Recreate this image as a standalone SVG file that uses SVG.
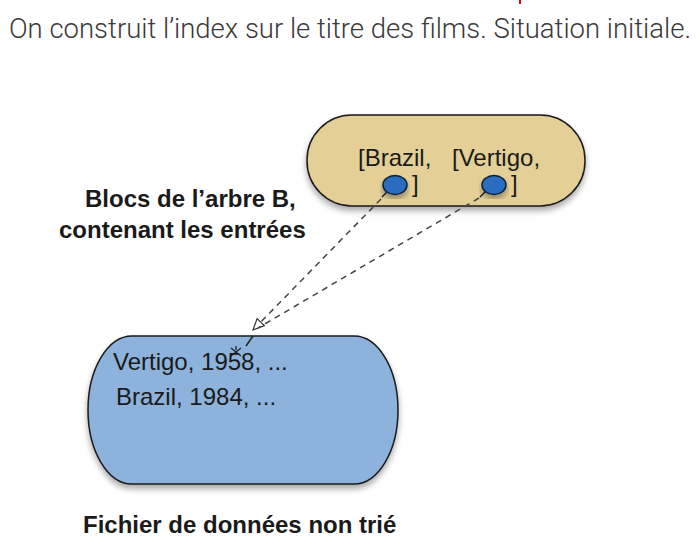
<svg xmlns="http://www.w3.org/2000/svg" width="700" height="542" viewBox="0 0 700 542">
<style>
.title{font-family:Roboto,"Liberation Sans",sans-serif;font-weight:300;font-size:27px;fill:#3a3a3a}
.t{font-family:"Liberation Sans",Arial,sans-serif;font-size:24px;fill:#1a1a1a}
.b{font-family:"Liberation Sans",Arial,sans-serif;font-size:24px;font-weight:bold;fill:#1a1a1a}
.node{stroke:#1a1a1a;stroke-width:1.5}
.dot{fill:#2a6cc0;stroke:#10203a;stroke-width:1.5}
.dash{fill:none;stroke:#444;stroke-width:1.5;stroke-dasharray:6,5}
</style>
<defs>
<filter id="sh" x="-10%" y="-10%" width="120%" height="130%">
<feGaussianBlur in="SourceAlpha" stdDeviation="3"/>
<feOffset dx="0" dy="4" result="o"/>
<feComponentTransfer><feFuncA type="linear" slope="0.35"/></feComponentTransfer>
<feMerge><feMergeNode/><feMergeNode in="SourceGraphic"/></feMerge>
</filter>
<marker id="open" markerWidth="14" markerHeight="12" refX="12" refY="6" orient="auto" markerUnits="userSpaceOnUse">
<path d="M1,1 L12,6 L1,11 Z" fill="#fff" stroke="#333" stroke-width="1.2"/>
</marker>
</defs>
<rect x="519" y="0" width="2" height="4" fill="#e00000"/>
<text class="title" x="9" y="38" textLength="682" lengthAdjust="spacingAndGlyphs">On construit l’index sur le titre des films. Situation initiale.</text>

<g id="label-blocs">
<text class="b" x="85" y="207">Blocs de l’arbre B,</text>
<text class="b" x="59" y="238">contenant les entrées</text>
</g>

<g id="node-btree">
<rect class="node" x="307" y="115" width="278" height="91" rx="45" ry="45" fill="#e4d097" filter="url(#sh)"/>
<text class="t" x="358" y="166">[Brazil,</text>
<text class="t" x="452" y="166">[Vertigo,</text>
<path d="M388,191 L382,197" stroke="#10203a" stroke-width="1.5"/>
<ellipse class="dot" cx="395" cy="185" rx="12" ry="9.5" filter="url(#sh)"/>
<text class="t" x="412" y="192">]</text>
<path d="M486,191 L480,197" stroke="#10203a" stroke-width="1.5"/>
<ellipse class="dot" cx="494" cy="185" rx="12" ry="9.5" filter="url(#sh)"/>
<text class="t" x="511" y="192">]</text>
</g>

<g id="node-data">
<rect class="node" x="88" y="336" width="310" height="148" rx="44" ry="74" fill="#8db3dc" filter="url(#sh)"/>
<text class="t" x="113" y="370">Vertigo, 1958, ...</text>
<text class="t" x="116" y="405">Brazil, 1984, ...</text>
</g>

<g id="label-fichier">
<text class="b" x="83" y="533">Fichier de données non trié</text>
</g>

<g id="connectors">
<path class="dash" d="M381,199 L253,330" marker-end="url(#open)"/>
<path class="dash" d="M479,198 L258,328"/>
<path d="M253,336 L246,346" fill="none" stroke="#222" stroke-width="1.5"/>
<path d="M231,348 L241,356 M241,348 L231,356 M236,346 L236,350" fill="none" stroke="#222" stroke-width="1.3"/>
</g>
</svg>
